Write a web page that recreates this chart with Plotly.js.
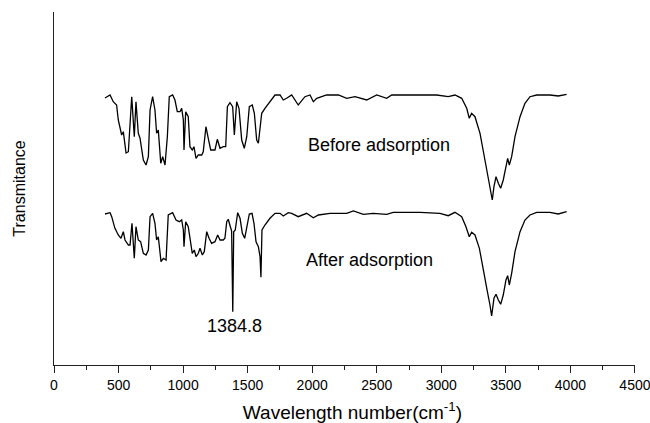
<!DOCTYPE html>
<html>
<head>
<meta charset="utf-8">
<script src="https://cdn.plot.ly/plotly-3.0.1.min.js"></script>
<style>html,body{margin:0;padding:0;background:#fff;}#chart{width:650px;height:423px;}</style>
</head>
<body>
<div id="chart"></div>
<script>
// Wavenumbers (cm^-1) and transmittance (arbitrary units, curves offset)
const beforeX = [395,434,459,485,498,524,537,558,576,602,622,635,653,666,692,713,731,744,764,782,795,808,827,842,860,878,893,919,937,955,976,989,1002,1007,1020,1040,1053,1071,1084,1100,1118,1144,1156,1177,1195,1214,1247,1265,1286,1311,1330,1343,1363,1384,1397,1415,1433,1454,1474,1493,1513,1536,1552,1570,1583,1609,1634,1673,1712,1751,1776,1802,1841,1892,1944,1983,2009,2035,2112,2203,2267,2332,2422,2500,2577,2616,2783,2964,3054,3106,3158,3197,3217,3235,3261,3300,3338,3364,3382,3395,3408,3424,3442,3460,3480,3501,3514,3527,3545,3571,3610,3648,3687,3739,3842,3906,3945,3971];
const beforeY = [267,270,263.3,260,245,230,233.3,212,213.3,268.3,228.3,263.3,231.7,227,205,200,208.3,255,268.3,255,231.7,235,201.7,208.3,200,228.3,268.3,270,265,253.3,253.3,256.7,245,215,253.3,248.3,218.3,215,218.3,206.7,210,210,213.3,238.3,226.7,215,215,225.7,216.7,218.3,218.3,258.3,262.3,258.3,230,263.3,256.7,225,216.7,228.3,258.3,260,251.7,225,221.7,251.7,256.7,263.3,270,270,265,266.7,270,260,268.3,270,263.3,266.7,270,270,266.7,268.3,265,270,266.7,270,270,270,268.3,270,266.7,256.7,246.7,251.7,248.3,231.7,205,185,171.7,165,178.3,188.3,181.7,176.7,185,198.3,206.7,200,208.3,228.3,248.3,261.7,268.3,270,270,269,270,270.7];

const afterX = [395,421,434,447,472,498,519,537,550,576,589,604,622,635,653,671,692,713,731,744,764,782,795,808,829,847,868,885,919,945,971,989,1002,1007,1020,1040,1053,1071,1087,1100,1118,1131,1149,1164,1183,1201,1221,1247,1268,1286,1311,1324,1338,1350,1366,1376,1384.8,1392,1404,1423,1441,1459,1477,1493,1513,1534,1549,1565,1583,1596,1603,1611,1634,1673,1712,1751,1776,1815,1841,1892,1957,2009,2048,2138,2267,2319,2345,2396,2473,2577,2628,2835,2990,3054,3106,3158,3191,3217,3235,3261,3295,3326,3357,3377,3390,3408,3424,3442,3460,3480,3501,3514,3527,3545,3571,3610,3648,3687,3739,3842,3906,3971];
const afterY = [151,151.7,152.3,148.3,136.7,130,126.7,133.3,125,120,120,141.7,106.7,138.3,125,123.3,111.7,110,115,148.3,151.7,141.7,125,128.3,103.3,106.7,105,150,152.3,145,143.3,145,135,118.3,143.3,138.3,125,111.7,115,108.3,111.7,116.7,110,113.3,133.3,126.7,121.7,123.3,130,125,125,126.7,143.3,145.7,138.3,134,53.3,133.3,135,152.3,146.7,131.7,126.7,138.3,151,151.7,141.7,123.3,118.3,108.3,87.7,135,140,146.7,151.7,151.7,149,152.3,151.7,148.3,151.7,147.3,150,151.7,151.7,154,152.7,150.7,151.7,150.7,152.7,152.7,151.7,149.3,152.7,148.3,138.3,128.3,132.7,130,116.7,96.7,73.3,60,49,66.7,70.7,65,60.7,70,85,89.3,80,91.7,113.3,133.3,145,150,152.7,152.7,151,153.3];

const labelTexts = ["Before adsorption", "After adsorption", "1384.8"];
const labelX = [2517, 2440, 1402];
const labelY = [220, 105, 39];

const lineStyle = {color: "#000", width: 1.3};
const data = [
  {x: beforeX, y: beforeY, type: "scatter", mode: "lines", line: lineStyle, name: "Before adsorption", showlegend: false},
  {x: afterX, y: afterY, type: "scatter", mode: "lines", line: lineStyle, name: "After adsorption", showlegend: false}
];

const annotations = labelTexts.map((t, i) => ({
  text: t, x: labelX[i], y: labelY[i], xref: "x", yref: "y",
  showarrow: false, font: {family: "Liberation Sans, Arial, sans-serif", size: 18, color: "#000"}
}));

const layout = {
  width: 650, height: 423,
  margin: {l: 54, r: 15, t: 12, b: 58},
  paper_bgcolor: "#fff", plot_bgcolor: "#fff",
  font: {family: "Liberation Sans, Arial, sans-serif", color: "#000"},
  showlegend: false,
  xaxis: {
    range: [0, 4500.5], dtick: 500, tick0: 0,
    showline: true, linecolor: "#222", linewidth: 1,
    ticks: "outside", ticklen: 7, tickwidth: 1, tickcolor: "#222",
    minor: {dtick: 250, ticks: "outside", ticklen: 4, tickwidth: 1, tickcolor: "#222"},
    showgrid: false, zeroline: false,
    ticklabeloverflow: "allow",
    tickfont: {size: 14, color: "#000"},
    title: {text: "&nbsp;&nbsp;&nbsp;Wavelength number(cm<sup>-1</sup>)", font: {size: 19, color: "#000"}, standoff: 20}
  },
  yaxis: {
    range: [0, 353],
    showline: true, linecolor: "#222", linewidth: 1,
    ticks: "", showticklabels: false, showgrid: false, zeroline: false,
    title: {text: "Transmitance", font: {size: 16, color: "#000"}, standoff: 23}
  },
  annotations: annotations
};

Plotly.newPlot("chart", data, layout, {displayModeBar: false, staticPlot: true});
</script>
</body>
</html>
